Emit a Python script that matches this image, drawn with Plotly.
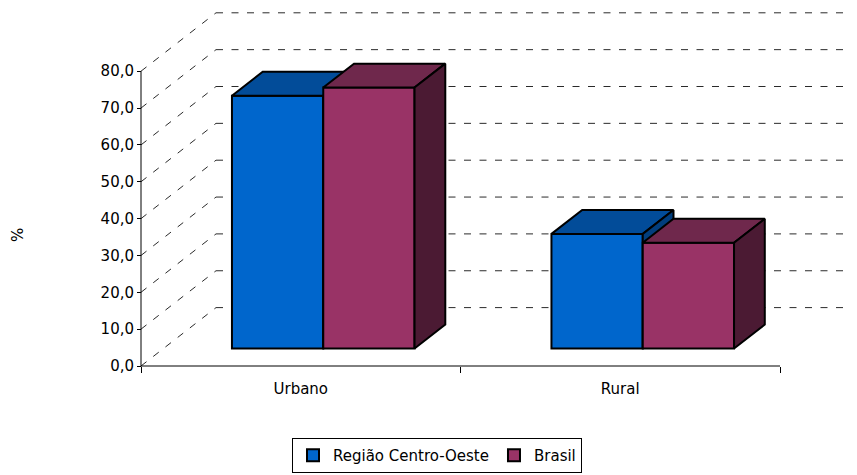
import plotly.graph_objects as go

# ---------------- data ----------------
categories = ["Urbano", "Rural"]
series_names = ["Região Centro-Oeste", "Brasil"]
centro_oeste = [68.6, 31.1]
brasil = [70.8, 28.7]
y_ticks = [0, 10, 20, 30, 40, 50, 60, 70, 80]
y_tick_labels = ["0,0", "10,0", "20,0", "30,0", "40,0", "50,0", "60,0", "70,0", "80,0"]
y_title = "%"

series_values = [centro_oeste, brasil]
front_colors = ["#0066CC", "#993366"]
top_colors = ["#024C99", "#6F284C"]
side_colors = ["#023E7D", "#4B1A33"]

# ---------------- layout geometry (pixels, window coordinates) ----------------
BODY = 8                          # page body margin that offsets the figure in the window
W, H = 857 - BODY, 475 - BODY
X0_PX, X_PER = 141.0 - BODY, 319.5   # pixel of x=0, pixels per category
Y0_PX, Y_PER = 366.0 - BODY, 3.685   # pixel of y=0, pixels per value unit
PL, PR, PT, PB = 126, W, 0, 367      # plot area in figure pixels
DX = 75.0 / X_PER                # full depth offset in x units
DY = 58.4 / Y_PER                # full depth offset in y units
ZF, ZB = 0.30, 0.71              # bar front/back depth fractions
GAP = 1.5                        # gap width (relative to bar width)
BW = 1.0 / (len(series_names) + GAP)

x_range = [(PL - X0_PX) / X_PER, (PR - X0_PX) / X_PER]
y_range = [(Y0_PX - PB) / Y_PER, (Y0_PX - PT) / Y_PER]
paper_w, paper_h = PR - PL, PB - PT

FONT = dict(family="DejaVu Sans", size=15, color="#000000")
GRID = dict(color="#2a2a2a", width=1, dash="7px,8.5px")

fig = go.Figure()

# back wall gridlines and left-wall diagonals
gx, gy, dxs, dys = [], [], [], []
n_cat = len(categories)
for t in y_ticks:
    gx += [DX, n_cat + DX, None]
    gy += [t + DY, t + DY, None]
    dxs += [0, DX, None]
    dys += [t, t + DY, None]
fig.add_trace(go.Scatter(x=gx, y=gy, mode="lines", line=GRID, showlegend=False, hoverinfo="skip"))
fig.add_trace(go.Scatter(x=dxs, y=dys, mode="lines", line=GRID, showlegend=False, hoverinfo="skip"))

# front axis lines (value axis 0..80, category axis 0..n)
fig.add_trace(go.Scatter(x=[0, 0, None, 0, n_cat], y=[y_ticks[0], y_ticks[-1], None, 0, 0],
                         mode="lines", line=dict(color="#000000", width=1),
                         showlegend=False, hoverinfo="skip"))

# bars: each series on its own overlaying axis pair so the 3-D faces stack correctly
for j, (name, vals) in enumerate(zip(series_names, series_values)):
    xa, ya = f"x{j + 2}", f"y{j + 2}"
    lefts = [i + GAP * BW / 2 + j * BW for i in range(n_cat)]
    fig.add_trace(go.Bar(
        x=[l + BW / 2 + ZF * DX for l in lefts], y=vals, base=[ZF * DY] * n_cat,
        width=BW, name=name, xaxis=xa, yaxis=ya,
        marker=dict(color=front_colors[j], line=dict(color="#000000", width=2)),
        hoverinfo="skip"))
    for l, v in zip(lefts, vals):
        r = l + BW
        top_x = [l + ZF * DX, r + ZF * DX, r + ZB * DX, l + ZB * DX, l + ZF * DX]
        top_y = [v + ZF * DY, v + ZF * DY, v + ZB * DY, v + ZB * DY, v + ZF * DY]
        side_x = [r + ZF * DX, r + ZF * DX, r + ZB * DX, r + ZB * DX, r + ZF * DX]
        side_y = [ZF * DY, v + ZF * DY, v + ZB * DY, ZB * DY, ZF * DY]
        for px, py, c in ((top_x, top_y, top_colors[j]), (side_x, side_y, side_colors[j])):
            fig.add_trace(go.Scatter(x=px, y=py, mode="lines", fill="toself", fillcolor=c,
                                     line=dict(color="#000000", width=2), xaxis=xa, yaxis=ya,
                                     showlegend=False, hoverinfo="skip"))

x_pos = (PB - Y0_PX) / paper_h
y_pos = (X0_PX - PL) / paper_w
hidden = dict(range=x_range, visible=False, showgrid=False, zeroline=False)
hidden_y = dict(range=y_range, visible=False, showgrid=False, zeroline=False)

fig.update_layout(
    width=W, height=H,
    margin=dict(l=PL, r=W - PR, t=PT, b=H - PB, autoexpand=False),
    paper_bgcolor="#ffffff", plot_bgcolor="#ffffff",
    font=FONT, barmode="overlay", showlegend=True,
    xaxis=dict(range=x_range, anchor="free", position=x_pos, showgrid=False, zeroline=False,
               showline=False, tickmode="array", tickvals=[i + 0.5 for i in range(n_cat)],
               ticktext=categories, ticks="outside", ticklen=9, tickcolor="rgba(0,0,0,0)",
               tickfont=FONT, automargin=False,
               minor=dict(tickmode="array", tickvals=list(range(n_cat + 1)), ticks="outside",
                          ticklen=6, tickcolor="#000000", showgrid=False)),
    yaxis=dict(range=y_range, anchor="free", position=y_pos, showgrid=False, zeroline=False,
               showline=False, tickmode="array", tickvals=y_ticks, ticktext=y_tick_labels,
               ticks="outside", ticklen=4, tickcolor="#000000", tickfont=FONT, automargin=False),
    xaxis2=dict(overlaying="x", anchor="y2", **hidden),
    yaxis2=dict(overlaying="y", anchor="x2", **hidden_y),
    xaxis3=dict(overlaying="x", anchor="y3", **hidden),
    yaxis3=dict(overlaying="y", anchor="x3", **hidden_y),
    legend=dict(orientation="h", x=(292 - BODY - PL) / paper_w, xanchor="left",
                y=(PB - (438 - BODY)) / paper_h, yanchor="top", bordercolor="#000000",
                borderwidth=1, bgcolor="#ffffff", font=FONT, traceorder="normal"),
    annotations=[dict(text=y_title, xref="paper", yref="paper", x=(18 - BODY - PL) / paper_w,
                      y=(PB - (235 - BODY)) / paper_h, showarrow=False, textangle=-90,
                      font=FONT, xanchor="center", yanchor="middle")],
)

fig.write_html("out.html")
